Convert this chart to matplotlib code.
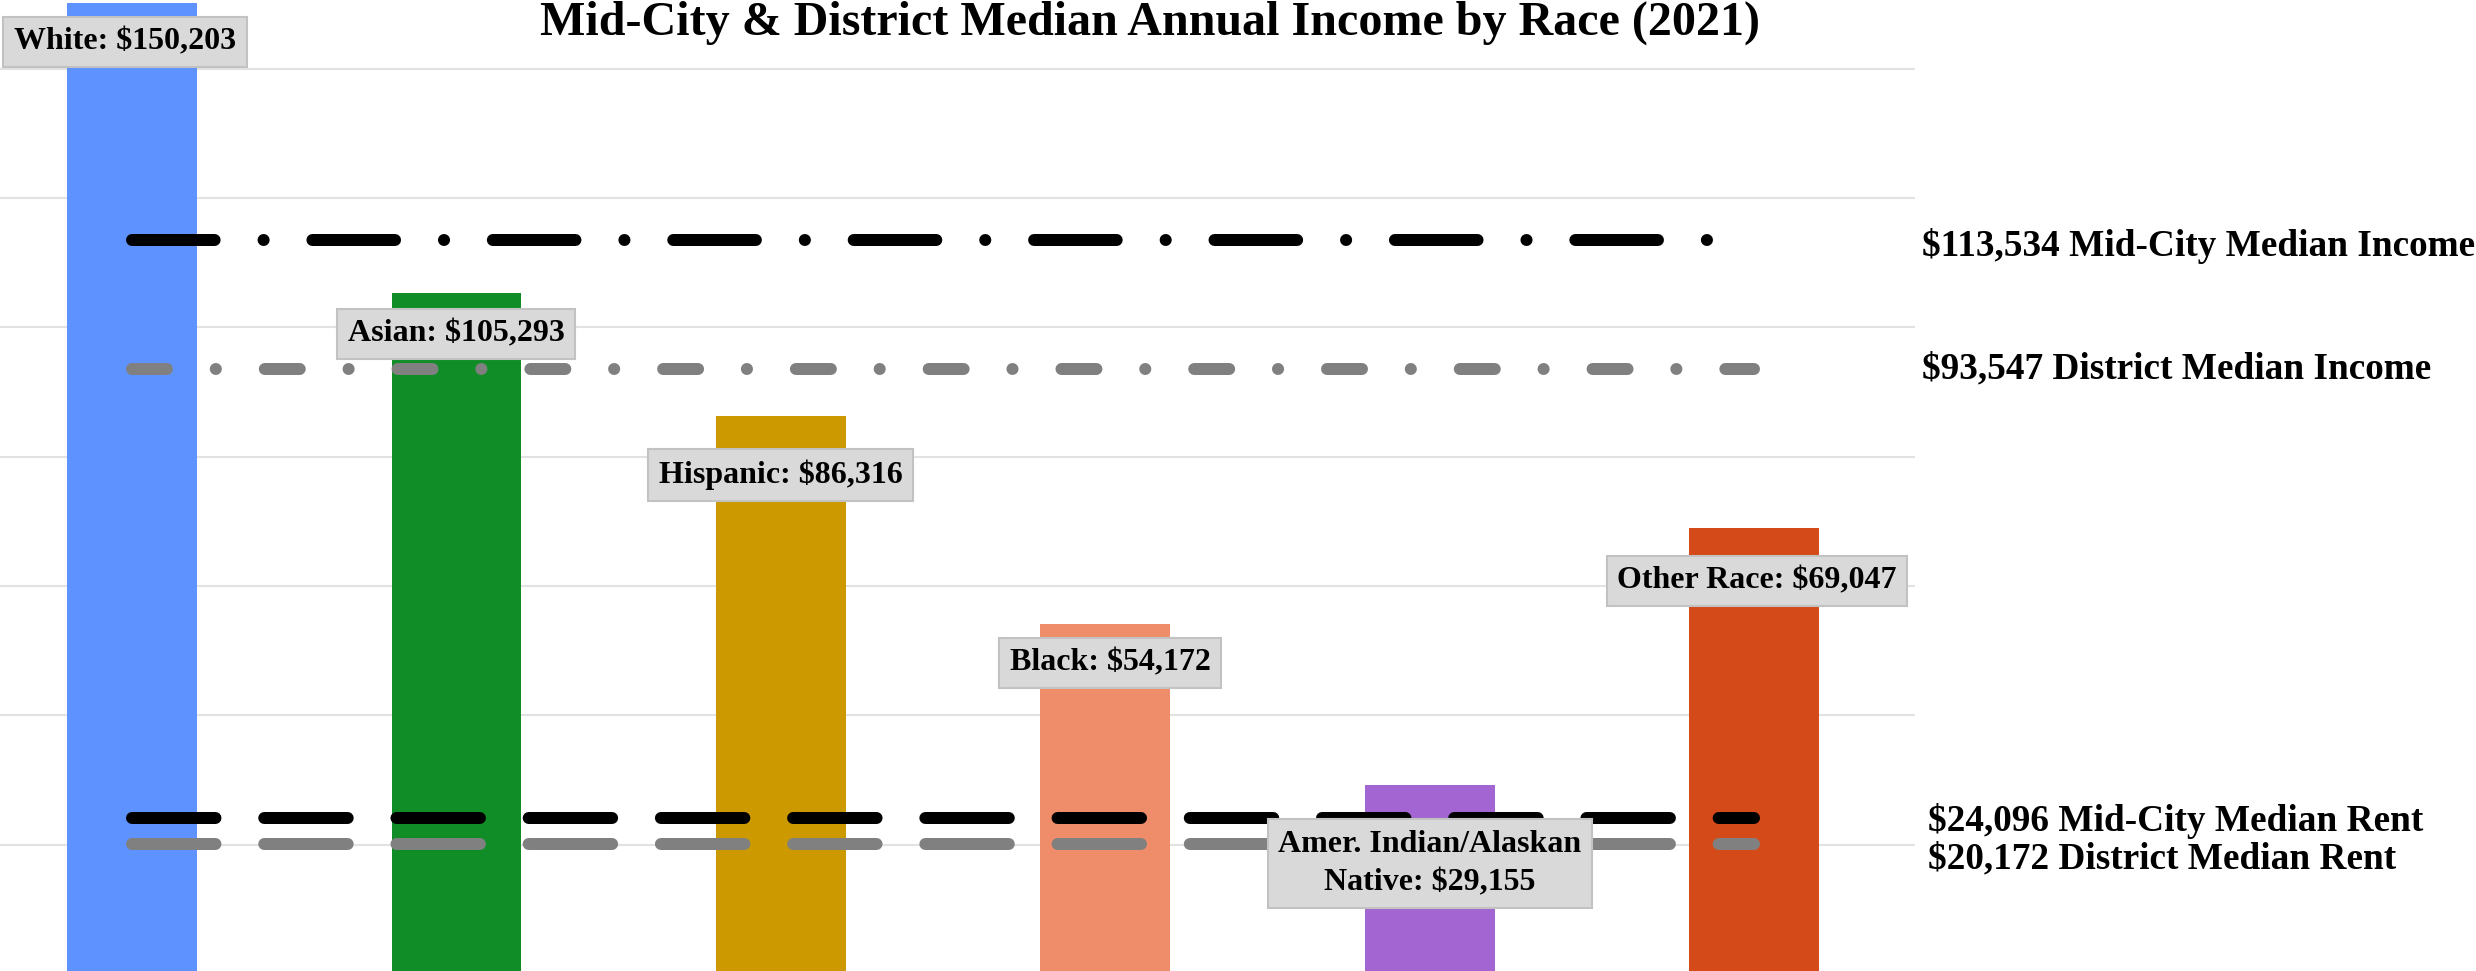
import matplotlib
matplotlib.use("Agg")
import matplotlib.pyplot as plt
import numpy as np

plt.rcParams['font.family'] = ['Liberation Serif', 'DejaVu Serif']
plt.rcParams['font.weight'] = 'bold'
plt.rcParams['lines.scale_dashes'] = False

# data
races = ["White", "Asian", "Hispanic", "Black", "Amer. Indian/Alaskan\nNative", "Other Race"]
incomes = [150203, 105293, 86316, 54172, 29155, 69047]
bar_colors = ["#5e93ff", "#118d28", "#cc9900", "#ef8c69", "#a365d1", "#d44a18"]

ref_names = ["Mid-City Median Income", "District Median Income", "Mid-City Median Rent", "District Median Rent"]
ref_values = [113534, 93547, 24096, 20172]
ref_colors = ["#000000", "#808080", "#000000", "#808080"]

title = "Mid-City & District Median Annual Income by Race (2021)"

# layout (pixels)
W, H = 2476, 971
label_dy = [-39, -41, -59, -39, -78, -53]
label_dx = [-7, 0, 0, 5, 0, 3]
ref_dx = [7, 7, 13, 13]
ref_dy = [-6, 0, -3, -15]
ref_end = [4.95, 5, 5, 5]
ref_dashes = [
    (59.5, 35.2, 0.1, 35.1),
    (25.2, 35.1, 0.1, 35.2),
    (60.1, 35.1),
    (60.1, 35.1),
]

fig = plt.figure(figsize=(W / 100, H / 100), dpi=100)
ax = fig.add_axes([0, 0, 1915 / W, 1])

x = np.arange(len(races))
ax.bar(x, incomes, width=0.4, color=bar_colors, zorder=2)

for val, col, dsh, end in zip(ref_values, ref_colors, ref_dashes, ref_end):
    ax.plot([x[0], end], [val, val], color=col, lw=8.64, dashes=dsh,
            dash_capstyle='round', solid_capstyle='round', zorder=3)

box = dict(boxstyle='square,pad=0.33', fc='#d9d9d9', ec='#c2c2c2', lw=1.5)
for i, (name, val) in enumerate(zip(races, incomes)):
    ax.annotate(f"{name}: ${val:,}", xy=(i, val), xytext=(label_dx[i], label_dy[i]),
                textcoords='offset pixels', ha='center', va='center',
                fontsize=23, fontweight='bold', bbox=box, zorder=5,
                linespacing=1.45, annotation_clip=False)

for name, val, dx, dy in zip(ref_names, ref_values, ref_dx, ref_dy):
    ax.annotate(f"${val:,} {name}", xy=(1, val), xycoords=('axes fraction', 'data'),
                xytext=(dx, dy), textcoords='offset pixels', ha='left', va='center',
                fontsize=26.8, fontweight='bold', annotation_clip=False)

ax.set_xlim(-0.407, 5.496)
ax.set_ylim(460, 150650)
ax.set_yticks(np.arange(20000, 160000, 20000))
ax.yaxis.grid(True, color='#e2e2e2', lw=1.5)
ax.set_axisbelow(True)
ax.tick_params(length=0, labelleft=False, labelbottom=False)
for s in ax.spines.values():
    s.set_visible(False)

fig.text(1150 / W, 1 - 35 / H, title, ha='center', va='baseline',
         fontsize=34.6, fontweight='bold')

fig.savefig("out.png", dpi=100)
